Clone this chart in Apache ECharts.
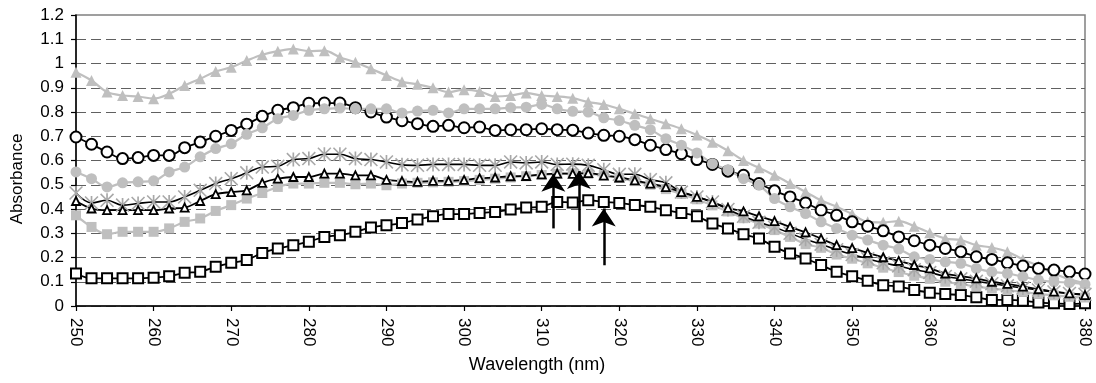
<!DOCTYPE html>
<html>
<head>
<meta charset="utf-8">
<script src="https://cdn.jsdelivr.net/npm/echarts@6/dist/echarts.min.js"></script>
<style>
html,body{margin:0;padding:0;background:#fff;}
#chart{width:1096px;height:383px;}
</style>
</head>
<body>
<div id="chart"></div>
<script>
// Wavelengths (nm), one point every 2 nm
const wavelengths = [];
for (let w = 250; w <= 380; w += 2) wavelengths.push(w);

const xTicks = [250,260,270,280,290,300,310,320,330,340,350,360,370,380];

// Gray filled triangles
const grayTriangles = [0.964,0.930,0.882,0.868,0.864,0.855,0.875,0.909,0.937,0.967,0.985,1.012,1.036,1.051,1.060,1.051,1.053,1.026,1.005,0.978,0.951,0.925,0.914,0.900,0.882,0.892,0.885,0.864,0.868,0.878,0.868,0.864,0.857,0.841,0.831,0.813,0.793,0.772,0.752,0.731,0.705,0.675,0.640,0.600,0.570,0.539,0.505,0.470,0.436,0.409,0.379,0.347,0.345,0.350,0.329,0.302,0.278,0.272,0.251,0.241,0.224,0.192,0.165,0.134,0.110,0.095];
// Black open circles
const blackCircles = [0.697,0.667,0.635,0.608,0.612,0.621,0.621,0.653,0.676,0.700,0.724,0.750,0.782,0.807,0.818,0.836,0.837,0.837,0.818,0.800,0.779,0.764,0.752,0.741,0.745,0.735,0.738,0.724,0.727,0.727,0.731,0.727,0.725,0.713,0.704,0.700,0.686,0.663,0.645,0.628,0.604,0.584,0.556,0.539,0.505,0.475,0.450,0.425,0.395,0.374,0.347,0.329,0.310,0.285,0.269,0.251,0.237,0.224,0.203,0.192,0.178,0.165,0.155,0.148,0.141,0.132];
// Gray filled circles
const grayCircles = [0.553,0.525,0.491,0.508,0.512,0.516,0.553,0.573,0.615,0.649,0.669,0.708,0.735,0.772,0.786,0.807,0.813,0.816,0.813,0.813,0.813,0.796,0.804,0.807,0.796,0.813,0.813,0.813,0.818,0.820,0.831,0.813,0.803,0.800,0.776,0.765,0.745,0.727,0.690,0.663,0.631,0.587,0.562,0.525,0.498,0.443,0.409,0.381,0.347,0.320,0.292,0.272,0.251,0.235,0.203,0.192,0.182,0.176,0.155,0.141,0.134,0.121,0.107,0.100,0.096,0.090];
// Gray asterisks (black line)
const grayStars = [0.466,0.425,0.436,0.416,0.423,0.429,0.429,0.450,0.477,0.505,0.525,0.549,0.573,0.576,0.604,0.608,0.626,0.626,0.608,0.604,0.594,0.582,0.580,0.584,0.584,0.584,0.580,0.580,0.594,0.590,0.594,0.584,0.585,0.580,0.562,0.543,0.543,0.521,0.508,0.470,0.450,0.429,0.398,0.370,0.345,0.325,0.300,0.275,0.255,0.232,0.212,0.195,0.178,0.165,0.150,0.138,0.122,0.112,0.102,0.092,0.083,0.074,0.066,0.058,0.052,0.048];
// Black open triangles
const blackTriangles = [0.433,0.402,0.395,0.395,0.395,0.395,0.402,0.406,0.433,0.461,0.470,0.477,0.508,0.525,0.532,0.532,0.546,0.546,0.539,0.539,0.520,0.515,0.512,0.516,0.516,0.520,0.527,0.530,0.535,0.536,0.543,0.546,0.545,0.548,0.538,0.530,0.518,0.505,0.490,0.470,0.450,0.428,0.405,0.390,0.370,0.350,0.326,0.304,0.278,0.251,0.239,0.219,0.201,0.186,0.169,0.155,0.134,0.123,0.114,0.100,0.091,0.080,0.069,0.059,0.052,0.045];
// Gray filled squares
const graySquares = [0.374,0.326,0.296,0.306,0.306,0.306,0.320,0.347,0.361,0.392,0.416,0.443,0.466,0.491,0.505,0.505,0.508,0.508,0.502,0.505,0.498,0.505,0.508,0.510,0.512,0.515,0.520,0.525,0.530,0.535,0.540,0.545,0.548,0.545,0.540,0.528,0.515,0.500,0.482,0.462,0.440,0.415,0.390,0.362,0.340,0.313,0.285,0.255,0.240,0.212,0.195,0.176,0.158,0.140,0.125,0.112,0.100,0.090,0.080,0.072,0.065,0.058,0.050,0.044,0.038,0.035];
// Black open squares
const blackSquares = [0.134,0.114,0.114,0.114,0.114,0.117,0.123,0.137,0.141,0.162,0.178,0.190,0.219,0.237,0.251,0.265,0.285,0.292,0.306,0.324,0.333,0.342,0.357,0.370,0.379,0.379,0.384,0.388,0.398,0.406,0.409,0.429,0.427,0.436,0.429,0.425,0.416,0.409,0.395,0.384,0.370,0.340,0.320,0.296,0.278,0.244,0.217,0.196,0.169,0.141,0.123,0.104,0.086,0.080,0.066,0.055,0.049,0.045,0.036,0.025,0.025,0.022,0.014,0.011,0.008,0.011];

// Arrows (annotation): wavelength, start absorbance, tip absorbance
const arrowX = [311.5, 314.8, 318.0];
const arrowFrom = [0.32, 0.31, 0.168];
const arrowTo = [0.545, 0.557, 0.402];

const GRAY = '#bfbfbf';
const FONT = 'Liberation Sans, Arial, sans-serif';
const STAR = 'path://M4.4 0L5.6 0L5.6 10L4.4 10ZM0 0.8L0.8 0L10 9.2L9.2 10ZM9.2 0L10 0.8L0.8 10L0 9.2Z';

function pts(arr){ return wavelengths.map((w,i)=>[w, arr[i]]); }

function lineSeries(name, arr, opts){
  return Object.assign({
    name: name, type: 'line', data: pts(arr), smooth: 0.35, clip: false,
    animation: false, showAllSymbol: true
  }, opts);
}

const series = [
  lineSeries('grayTri', grayTriangles, {
    symbol: 'triangle', symbolSize: 11,
    lineStyle: {color: GRAY, width: 2.2}, itemStyle: {color: GRAY}
  }),
  lineSeries('blackSq', blackSquares, {
    symbol: 'rect', symbolSize: 10,
    lineStyle: {color: '#000', width: 1.8},
    itemStyle: {color: '#fff', borderColor: '#000', borderWidth: 2}
  }),
  lineSeries('blackCirc', blackCircles, {
    symbol: 'circle', symbolSize: 11,
    lineStyle: {color: '#000', width: 1.8},
    itemStyle: {color: '#fff', borderColor: '#000', borderWidth: 2}
  }),
  lineSeries('grayCirc', grayCircles, {
    symbol: 'circle', symbolSize: 11,
    lineStyle: {color: GRAY, width: 2.2}, itemStyle: {color: GRAY}
  }),
  lineSeries('graySq', graySquares, {
    symbol: 'rect', symbolSize: 10,
    lineStyle: {color: GRAY, width: 2.2}, itemStyle: {color: GRAY}
  }),
  lineSeries('grayStar', grayStars, {
    symbol: STAR, symbolSize: 14,
    lineStyle: {color: '#000', width: 1.6}, itemStyle: {color: '#a8a8a8'}
  }),
  lineSeries('blackTri', blackTriangles, {
    symbol: 'triangle', symbolSize: 8,
    lineStyle: {color: '#000', width: 1.8},
    itemStyle: {color: '#fff', borderColor: '#000', borderWidth: 1.8}
  }),
  {
    name: 'arrows', type: 'line', data: [], animation: false, silent: true,
    markLine: {
      silent: true, animation: false,
      symbol: ['none', 'arrow'], symbolSize: 18,
      lineStyle: {color: '#000', width: 2.5, type: 'solid'},
      label: {show: false},
      data: arrowX.map((x,i)=>[{coord:[x, arrowFrom[i]]},{coord:[x, arrowTo[i]]}])
    }
  }
];

const splitColors = [];
for (let i = 0; i < 12; i++) splitColors.push('#606060');
splitColors.push('rgba(0,0,0,0)');

const chart = echarts.init(document.getElementById('chart'), null, {renderer: 'canvas'});
chart.setOption({
  animation: false,
  backgroundColor: '#fff',
  grid: {left: 76, right: 11, top: 15, bottom: 77, show: true, borderColor: '#808080', borderWidth: 1.5, backgroundColor: 'transparent'},
  xAxis: {
    type: 'value', min: xTicks[0], max: xTicks[xTicks.length-1], interval: 10,
    axisLine: {lineStyle: {color: '#000', width: 1.5}},
    axisTick: {length: 5, lineStyle: {color: '#000', width: 1.2}},
    axisLabel: {rotate: -90, fontSize: 17, fontFamily: FONT, color: '#000', margin: 12},
    splitLine: {show: false}
  },
  yAxis: {
    type: 'value', min: 0, max: 1.2, interval: 0.1,
    axisLine: {show: true, lineStyle: {color: '#000', width: 1.5}},
    axisTick: {show: true, length: 5, lineStyle: {color: '#000', width: 1.2}},
    axisLabel: {fontSize: 17, fontFamily: FONT, color: '#000', margin: 12},
    splitLine: {show: true, lineStyle: {color: splitColors, width: 1, type: [10, 5]}}
  },
  graphic: [
    {type: 'text', x: 537, y: 365, style: {text: 'Wavelength (nm)', fill: '#000', font: '18px ' + FONT, align: 'center', verticalAlign: 'middle', textAlign: 'center', textVerticalAlign: 'middle'}},
    {type: 'text', x: 17, y: 179, rotation: Math.PI/2, style: {text: 'Absorbance', fill: '#000', font: '17px ' + FONT, align: 'center', verticalAlign: 'middle', textAlign: 'center', textVerticalAlign: 'middle'}}
  ],
  series: series
});
</script>
</body>
</html>
